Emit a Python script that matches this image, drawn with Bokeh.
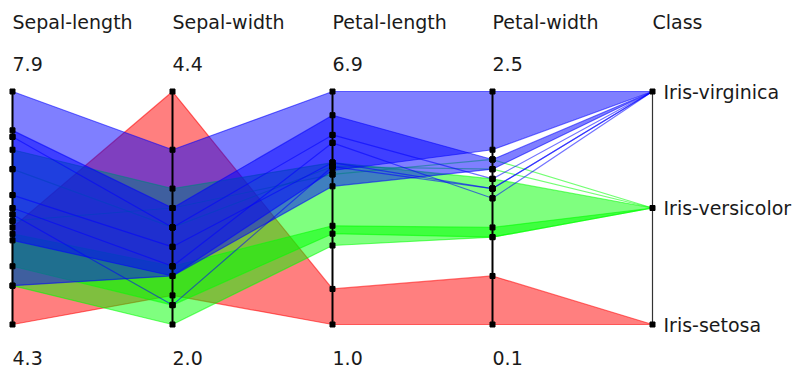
from bokeh.plotting import figure
from bokeh.models import Range1d, ColumnDataSource
from bokeh.core.properties import value
from bokeh.embed import file_html
from bokeh.resources import INLINE

# ---------------- data ----------------
dimensions = ["Sepal-length", "Sepal-width", "Petal-length", "Petal-width"]
dim_min = [4.3, 2.0, 1.0, 0.1]
dim_max = [7.9, 4.4, 6.9, 2.5]
class_title = "Class"
class_names = ["Iris-setosa", "Iris-versicolor", "Iris-virginica"]

# cluster bands: class, lower bounds, upper bounds (one value per dimension)
band_class = [
    "Iris-setosa",
    "Iris-versicolor", "Iris-versicolor", "Iris-versicolor", "Iris-versicolor",
    "Iris-virginica", "Iris-virginica", "Iris-virginica", "Iris-virginica",
    "Iris-virginica", "Iris-virginica",
]
band_low = [
    [4.3, 2.3, 1.0, 0.1],
    [4.9, 2.0, 3.0, 1.0],
    [5.2, 2.2, 3.3, 1.0],
    [5.9, 3.2, 4.8, 1.8],
    [6.7, 3.0, 5.0, 1.7],
    [5.6, 2.5, 4.9, 1.9],
    [4.9, 2.5, 4.5, 1.7],
    [7.2, 3.0, 5.8, 1.6],
    [6.3, 2.8, 5.1, 1.5],
    [6.0, 2.2, 5.0, 1.5],
    [6.1, 2.6, 5.6, 1.4],
]
band_high = [
    [5.8, 4.4, 1.9, 0.6],
    [5.7, 2.6, 3.5, 1.1],
    [7.0, 3.4, 5.1, 1.6],
    [5.9, 3.2, 4.8, 1.8],
    [6.7, 3.0, 5.0, 1.7],
    [7.9, 3.8, 6.9, 2.5],
    [7.3, 3.2, 6.3, 1.8],
    [7.2, 3.0, 5.8, 1.6],
    [6.3, 2.8, 5.1, 1.5],
    [6.0, 2.2, 5.0, 1.5],
    [6.1, 2.6, 5.6, 1.4],
]

class_colors = {"Iris-setosa": "#ff0000", "Iris-versicolor": "#00ff00", "Iris-virginica": "#0000ff"}

# ---------------- helpers ----------------
def norm(v, i):
    return (v - dim_min[i]) / (dim_max[i] - dim_min[i])

def class_pos(c):
    return class_names.index(c) / (len(class_names) - 1)

n_dim = len(dimensions)
class_x = n_dim

xs, ys, colors = [], [], []
dot_x, dot_y = [], []
for c, lo, hi in zip(band_class, band_low, band_high):
    top = [norm(hi[i], i) for i in range(n_dim)]
    bot = [norm(lo[i], i) for i in range(n_dim)]
    cy = class_pos(c)
    xs.append(list(range(n_dim)) + [class_x] + list(range(n_dim - 1, -1, -1)))
    ys.append(top + [cy] + bot[::-1])
    colors.append(class_colors[c])
    for i in range(n_dim):
        dot_x += [i, i]
        dot_y += [top[i], bot[i]]
for c in class_names:
    dot_x.append(class_x)
    dot_y.append(class_pos(c))

# ---------------- figure ----------------
W, H = 799, 369
p = figure(width=W, height=H, output_backend="svg", toolbar_location=None,
           x_range=Range1d(-0.075, 4.91875), y_range=Range1d(-0.1931, 1.3906),
           min_border=0)
p.xaxis.visible = False
p.yaxis.visible = False
p.grid.visible = False
p.outline_line_color = None
p.background_fill_color = "white"
p.border_fill_color = "white"

src = ColumnDataSource(dict(xs=xs, ys=ys, color=colors))
p.patches("xs", "ys", source=src, fill_color="color", fill_alpha=0.5,
          line_color="color", line_alpha=0.55, line_width=1.2)

# axis lines
p.segment(x0=list(range(n_dim)), y0=[0] * n_dim, x1=list(range(n_dim)), y1=[1] * n_dim,
          line_color="black", line_width=2)
p.segment(x0=[class_x], y0=[0], x1=[class_x], y1=[1], line_color="#333333", line_width=1.2)

# bound markers
p.scatter(dot_x, dot_y, marker="square", size=5, fill_color="black", line_color="black")

font = value("DejaVu Sans")
fs = "19px"
tc = "#1a1a1a"
titles = dimensions + [class_title]
p.text(x=list(range(n_dim + 1)), y=[1] * (n_dim + 1), text=titles, y_offset=-70,
       text_font=font, text_font_size=fs, text_color=tc,
       text_baseline="middle", text_align="left")
p.text(x=list(range(n_dim)), y=[1] * n_dim, text=[f"{v:.1f}" for v in dim_max], y_offset=-28,
       text_font=font, text_font_size=fs, text_color=tc,
       text_baseline="middle", text_align="left")
p.text(x=list(range(n_dim)), y=[0] * n_dim, text=[f"{v:.1f}" for v in dim_min], y_offset=33,
       text_font=font, text_font_size=fs, text_color=tc,
       text_baseline="middle", text_align="left")
p.text(x=[class_x] * len(class_names), y=[class_pos(c) for c in class_names], text=class_names,
       x_offset=11, text_font=font, text_font_size=fs, text_color=tc,
       text_baseline="middle", text_align="left")

open("out.html", "w").write(file_html(p, INLINE))
